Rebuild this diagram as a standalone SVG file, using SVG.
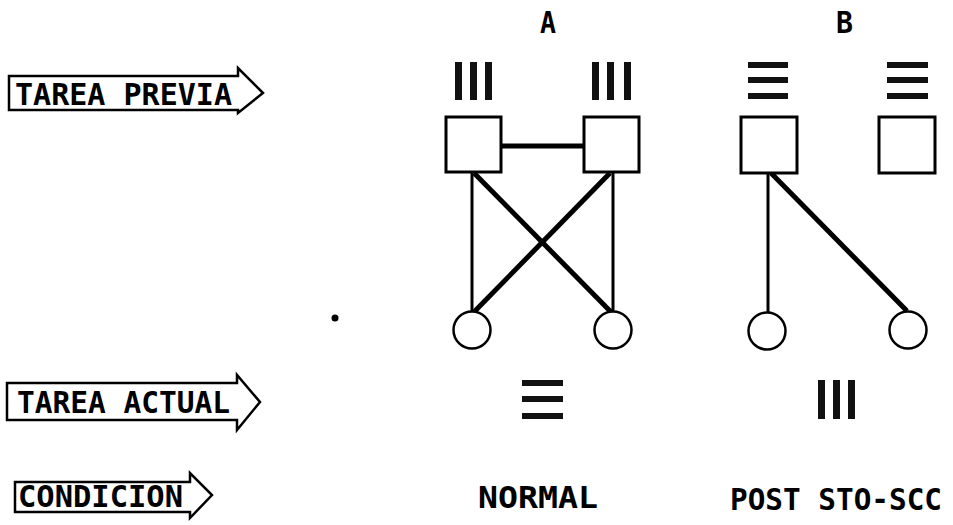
<svg xmlns="http://www.w3.org/2000/svg" width="953" height="525" viewBox="0 0 953 525">
  <style>
    .lbl { font-family: "DejaVu Sans Mono", "Liberation Mono", monospace; font-weight: bold; font-size: 31px; fill: #000; }
    .arrow { fill: #fff; stroke: #000; stroke-width: 2.5; stroke-linejoin: miter; }
    .box { fill: #fff; stroke: #000; stroke-width: 3; }
    .node { fill: #fff; stroke: #000; stroke-width: 2.5; }
    .bar { fill: #111; }
    .edge { stroke: #000; fill: none; stroke-linecap: butt; }
  </style>
  <rect width="953" height="525" fill="#fff"/>

  <!-- row labels (block arrows) -->
  <g id="row-previa">
    <polygon class="arrow" points="9,76 238,76 238,68 263,93 238,113 238,110 9,110"/>
    <text class="lbl" x="15" y="105" textLength="217" lengthAdjust="spacingAndGlyphs">TAREA PREVIA</text>
  </g>
  <g id="row-actual">
    <polygon class="arrow" points="7,383 237,383 237,375 260,402 237,430 237,420 7,420"/>
    <text class="lbl" x="17" y="413" textLength="213" lengthAdjust="spacingAndGlyphs">TAREA ACTUAL</text>
  </g>
  <g id="row-condicion">
    <polygon class="arrow" points="15,482 190,482 190,473 212,495 190,518 190,512 15,512"/>
    <text class="lbl" x="18" y="507" textLength="165" lengthAdjust="spacingAndGlyphs">CONDICION</text>
  </g>

  <!-- column headings -->
  <g id="col-a-title"><text class="lbl" x="540" y="33" textLength="16" lengthAdjust="spacingAndGlyphs">A</text></g>
  <g id="col-b-title"><text class="lbl" x="836" y="33" textLength="17" lengthAdjust="spacingAndGlyphs">B</text></g>

  <!-- connectors -->
  <g id="connectors">
    <line class="edge" x1="501" y1="146" x2="584" y2="146" stroke-width="5"/>
    <line class="edge" x1="472" y1="172" x2="472" y2="312" stroke-width="3"/>
    <line class="edge" x1="613" y1="172" x2="613" y2="312" stroke-width="3"/>
    <line class="edge" x1="474" y1="173" x2="611" y2="312" stroke-width="5"/>
    <line class="edge" x1="610" y1="173" x2="474" y2="312" stroke-width="5"/>
    <line class="edge" x1="768" y1="173" x2="768" y2="313" stroke-width="3"/>
    <line class="edge" x1="771" y1="173" x2="907" y2="311" stroke-width="5"/>
  </g>

  <!-- column A -->
  <g id="a-previa-left">
    <rect class="bar" x="455" y="62" width="7" height="38"/>
    <rect class="bar" x="470" y="62" width="7" height="38"/>
    <rect class="bar" x="485" y="62" width="7" height="38"/>
  </g>
  <g id="a-previa-right">
    <rect class="bar" x="592" y="62" width="7" height="38"/>
    <rect class="bar" x="607" y="62" width="7" height="38"/>
    <rect class="bar" x="624" y="62" width="7" height="38"/>
  </g>
  <g id="a-box-left"><rect class="box" x="446" y="117" width="55" height="55"/></g>
  <g id="a-box-right"><rect class="box" x="584" y="117" width="55" height="55"/></g>
  <g id="a-circle-left"><circle class="node" cx="472" cy="330" r="18.5"/></g>
  <g id="a-circle-right"><circle class="node" cx="613" cy="330" r="18.5"/></g>
  <g id="a-actual">
    <rect class="bar" x="522" y="380" width="41" height="6"/>
    <rect class="bar" x="522" y="396" width="41" height="6"/>
    <rect class="bar" x="522" y="413" width="41" height="6"/>
  </g>
  <g id="a-condicion"><text class="lbl" x="478" y="508" textLength="120" lengthAdjust="spacingAndGlyphs">NORMAL</text></g>

  <!-- column B -->
  <g id="b-previa-left">
    <rect class="bar" x="748" y="62" width="40" height="6"/>
    <rect class="bar" x="748" y="77" width="40" height="6"/>
    <rect class="bar" x="748" y="93" width="40" height="6"/>
  </g>
  <g id="b-previa-right">
    <rect class="bar" x="887" y="62" width="41" height="6"/>
    <rect class="bar" x="887" y="77" width="41" height="6"/>
    <rect class="bar" x="887" y="93" width="41" height="6"/>
  </g>
  <g id="b-box-left"><rect class="box" x="741" y="117" width="56" height="56"/></g>
  <g id="b-box-right"><rect class="box" x="879" y="117" width="56" height="56"/></g>
  <g id="b-circle-left"><circle class="node" cx="767" cy="331" r="18.5"/></g>
  <g id="b-circle-right"><circle class="node" cx="908" cy="330" r="18.5"/></g>
  <g id="b-actual">
    <rect class="bar" x="818" y="380" width="7" height="39"/>
    <rect class="bar" x="833" y="380" width="7" height="39"/>
    <rect class="bar" x="848" y="380" width="7" height="39"/>
  </g>
  <g id="b-condicion"><text class="lbl" x="730" y="510" textLength="212" lengthAdjust="spacingAndGlyphs">POST STO-SCC</text></g>

  <!-- stray dot -->
  <g id="dot"><circle cx="335" cy="318" r="3.5" fill="#000"/></g>
</svg>
